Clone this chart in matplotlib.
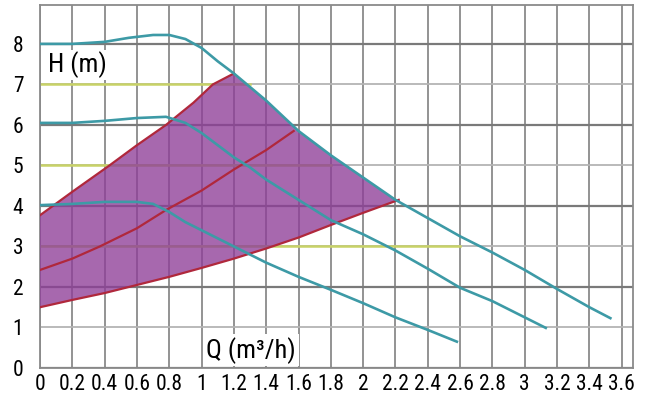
import numpy as np
import matplotlib
matplotlib.use("Agg")
from matplotlib import pyplot as plt

# pump curves (Q in m3/h, H in m)
q_high = [0, 0.2, 0.4, 0.55, 0.7, 0.8, 0.9, 1.0, 1.1, 1.2, 1.4, 1.6, 1.8, 2.0, 2.2, 2.4, 2.6, 2.8, 3.0, 3.2, 3.4, 3.53]
h_high = [8.0, 8.0, 8.05, 8.15, 8.22, 8.22, 8.12, 7.9, 7.57, 7.27, 6.6, 5.85, 5.25, 4.7, 4.15, 3.7, 3.25, 2.85, 2.42, 1.95, 1.5, 1.23]

q_mid = [0, 0.2, 0.4, 0.6, 0.78, 0.9, 1.0, 1.1, 1.2, 1.3, 1.4, 1.6, 1.8, 2.0, 2.2, 2.4, 2.6, 2.8, 3.0, 3.13]
h_mid = [6.05, 6.05, 6.1, 6.17, 6.2, 6.05, 5.8, 5.5, 5.2, 4.95, 4.65, 4.15, 3.65, 3.3, 2.9, 2.45, 1.98, 1.65, 1.25, 0.99]

q_low = [0, 0.2, 0.4, 0.6, 0.7, 0.8, 0.9, 1.0, 1.2, 1.4, 1.6, 1.8, 2.0, 2.2, 2.4, 2.58]
h_low = [4.02, 4.05, 4.1, 4.1, 4.05, 3.85, 3.6, 3.4, 3.0, 2.6, 2.25, 1.93, 1.6, 1.25, 0.94, 0.65]

# red control curves
q_red_lo = [0, 0.2, 0.4, 0.6, 0.8, 1.0, 1.2, 1.4, 1.6, 1.8, 2.0, 2.22]
h_red_lo = [1.5, 1.68, 1.85, 2.05, 2.25, 2.47, 2.7, 2.95, 3.22, 3.53, 3.83, 4.15]

q_red_mid = [0, 0.2, 0.37, 0.6, 0.78, 1.0, 1.2, 1.4, 1.57]
h_red_mid = [2.42, 2.7, 3.0, 3.45, 3.9, 4.38, 4.9, 5.38, 5.85]

q_red_hi = [0, 0.2, 0.43, 0.6, 0.78, 0.95, 1.07, 1.2]
h_red_hi = [3.77, 4.35, 5.0, 5.5, 6.0, 6.55, 7.0, 7.27]

# yellow reference lines: level and where they stop
ref_levels = [3, 5, 7]
ref_ends = [2.6, 1.8, 1.3]

x_ticks = [0, 0.2, 0.4, 0.6, 0.8, 1, 1.2, 1.4, 1.6, 1.8, 2, 2.2, 2.4, 2.6, 2.8, 3, 3.2, 3.4, 3.6]
x_labels = ['0', '0.2', '0.4', '0.6', '0.8', '1', '1.2', '1.4', '1.6', '1.8', '2',
            '2.2', '2.4', '2.6', '2.8', '3', '3.2', '3.4', '3.6']
y_ticks = [0, 1, 2, 3, 4, 5, 6, 7, 8]

plt.rcParams['font.family'] = ['Roboto Condensed', 'DejaVu Sans']

fig = plt.figure(figsize=(6.49, 3.98), dpi=100)
ax = fig.add_axes([40 / 649, 30 / 398, 593 / 649, 363 / 398])
ax.set_xlim(0, 3.67)
ax.set_ylim(0, 8.96)

# grid
for x in x_ticks:
    ax.axvline(x, color='#8a8a8a', lw=1.3, zorder=1)
for y in y_ticks:
    dark = y % 2 == 0
    ax.axhline(y, color='#7a7a7a' if dark else '#b4b4b4', lw=1.6 if dark else 1.3, zorder=1)

for lvl, end in zip(ref_levels, ref_ends):
    ax.plot([0, end], [lvl, lvl], color='#c8d266', lw=1.8, zorder=2)

# purple working area
qh = np.array(q_high)
hh = np.array(h_high)
sel = (qh > 1.2) & (qh <= 2.2)
poly_q = list(q_red_hi) + list(qh[sel]) + q_red_lo[::-1]
poly_h = list(h_red_hi) + list(hh[sel]) + h_red_lo[::-1]
ax.fill(poly_q, poly_h, color='#8e3d98', alpha=0.78, lw=0, zorder=3)

red = '#b0283c'
ax.plot(q_red_lo, h_red_lo, color=red, lw=1.6, zorder=4)
ax.plot(q_red_mid, h_red_mid, color=red, lw=1.6, zorder=4)
ax.plot(q_red_hi, h_red_hi, color=red, lw=1.6, zorder=4)

teal = '#3d9aa6'
for q, h in [(q_high, h_high), (q_mid, h_mid), (q_low, h_low)]:
    ax.plot(q, h, color=teal, lw=1.9, zorder=5)

ax.text(0.05, 7.48, 'H (m)', fontsize=19, va='center', ha='left', zorder=6,
        bbox=dict(facecolor='white', edgecolor='none', pad=1.0))
ax.text(1.03, 0.44, 'Q (m³/h)', fontsize=19, va='center', ha='left', zorder=6,
        bbox=dict(facecolor='white', edgecolor='none', pad=2))

ax.set_xticks(x_ticks)
ax.set_xticklabels(x_labels)
ax.set_yticks(y_ticks)
ax.tick_params(length=0, labelsize=15.5, colors='black')
ax.tick_params(axis='y', pad=12)
ax.tick_params(axis='x', pad=4)
for s in ax.spines.values():
    s.set_color('#8a8a8a')
    s.set_linewidth(1.3)

fig.savefig('out.png', dpi=100)
